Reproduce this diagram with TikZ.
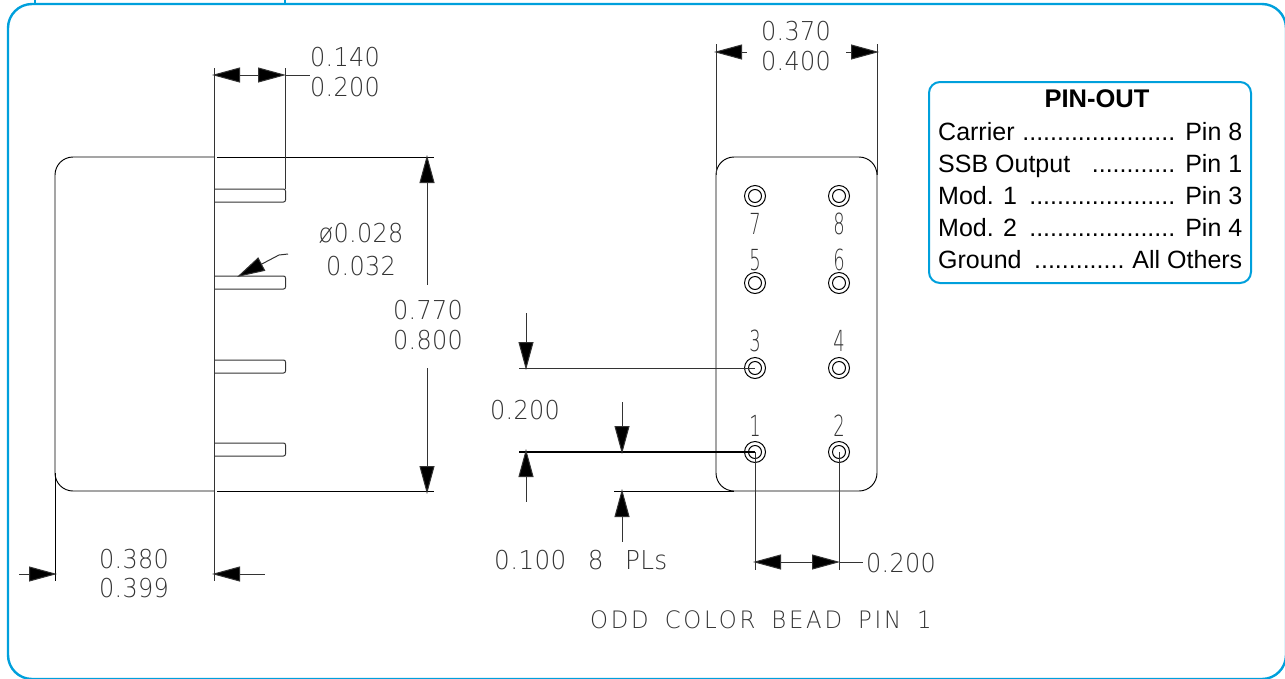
\documentclass[tikz,border=0pt]{standalone}
\usepackage{fontspec}
\usetikzlibrary{arrows.meta}
\setmainfont{Liberation Sans}
\newfontfamily\cad[FakeStretch=0.92,LetterSpace=1.2]{DejaVu Sans ExtraLight}
\newfontfamily\cadwide[FakeStretch=0.95,LetterSpace=11.5,WordSpace=1.6]{DejaVu Sans ExtraLight}
\newfontfamily\cadmid[FakeStretch=0.95,LetterSpace=1.5,WordSpace=2.6]{DejaVu Sans ExtraLight}
\newfontfamily\cadsm[FakeStretch=0.62]{DejaVu Sans ExtraLight}
\definecolor{frameblue}{HTML}{00A0DC}
\definecolor{inkgray}{HTML}{333333}
\tikzset{
  frame/.style={draw=frameblue,line width=2.4pt},
  part/.style={draw=black,line width=0.95pt},
  dimline/.style={draw=inkgray,line width=1pt},
  darrow/.style={dimline,{Triangle[length=28pt,width=15pt,fill=black]}-},
  twoarrow/.style={dimline,{Triangle[length=28pt,width=15pt,fill=black]}-{Triangle[length=28pt,width=15pt,fill=black]}},
  cadtext/.style={inner sep=0pt,text=inkgray,font=\cad\fontsize{26}{26}\selectfont},
  pinnum/.style={inner sep=0pt,text=inkgray,font=\cadsm\fontsize{29}{29}\selectfont},
  pinpad/.style={draw=black,line width=1pt,circle,minimum size=21pt,inner sep=0pt,
    path picture={\draw[line width=1pt] (path picture bounding box.center) circle (6.5pt);}},
  pinrow/.style={inner sep=0pt,anchor=base west,font=\fontsize{25}{25}\selectfont},
}
\newcommand{\pinline}[3]{\hbox to 304pt{#1\hfill #2\kern10pt #3}}
\begin{document}
\begin{tikzpicture}[x=1pt,y=-1pt]
\useasboundingbox (0,0) rectangle (1285,678);
% outer frame
\draw[frame,rounded corners=24pt] (8,4) rectangle (1286,679);
\draw[frame,line width=2pt] (35,0) -- (35,4) (285,0) -- (285,4);
% left body
\draw[part,rounded corners=18pt] (214,157) -- (55,157) -- (55,491) -- (214,491);
\draw[part] (217,157) -- (434,157) (217,491) -- (434,491);
\draw[dimline] (214,68) -- (214,581);
\draw[dimline] (285,68) -- (285,189);
\draw[part] (55,473) -- (55,581);
% pins
\foreach \n/\y in {a/189,b/276,c/360,d/443}{
  \draw[dimline,rounded corners=2pt] (214,\y) -- (285.5,\y) -- (285.5,\y+13) -- (214,\y+13);
}
% dimension 0.140/0.200
\draw[twoarrow] (212,75) -- (286,75);
\draw[dimline] (286,75) -- (310,75);
\node[cadtext] (d140) at (345,57) {0.140};
\node[cadtext] (d200a) at (345,87) {0.200};
% diameter
\draw[darrow] (237,277) -- (279,255) -- (288,254);
\node[cadtext] (d028) at (361,233) {ø0.028};
\node[cadtext] (d032) at (361,266) {0.032};
% height
\draw[darrow] (427,155) -- (427,285);
\draw[darrow] (427,494) -- (427,368);
\node[cadtext] (d770) at (428,310) {0.770};
\node[cadtext] (d800) at (428,340) {0.800};
% width
\draw[darrow] (57,574) -- (19,574);
\draw[darrow] (212,574) -- (265,574);
\node[cadtext] (d380) at (134,559) {0.380};
\node[cadtext] (d399) at (134,588) {0.399};
% right body
\draw[part,rounded corners=18pt] (796,157) -- (877,157) -- (877,491) -- (716,491) -- (716,157) -- (796,157);
\draw[dimline] (716,175) -- (716,44) (877,175) -- (877,44);
\draw[part] (734,491) -- (614,491);
\draw[darrow] (714,52) -- (747,52);
\draw[darrow] (879,52) -- (846,52);
\node[cadtext] (d370) at (796,31) {0.370};
\node[cadtext] (d400) at (796,61) {0.400};
% pads
\foreach \n/\x/\y in {7/755/196,8/839/196,5/755/283,6/839/283,3/755/368,4/839/368,1/755/452,2/839/452}{
  \node[pinpad] (p\n) at (\x,\y) {};
}
\node[pinnum] (n7) at (755,224) {7};
\node[pinnum] (n8) at (839,224) {8};
\node[pinnum] (n5) at (755,260) {5};
\node[pinnum] (n6) at (839,260) {6};
\node[pinnum] (n3) at (755,341) {3};
\node[pinnum] (n4) at (839,341) {4};
\node[pinnum] (n1) at (755,426) {1};
\node[pinnum] (n2) at (839,426) {2};
% vertical pitch dims
\draw[dimline] (519,368) -- (p3.center);
\draw[draw=black,line width=2pt] (519,452) -- (p1.center);
\draw[darrow] (526,370) -- (526,313);
\draw[darrow] (526,449) -- (526,502);
\draw[darrow] (622,454) -- (622,402);
\draw[darrow] (622,489) -- (622,542);
\node[cadtext] (d200b) at (525,410) {0.200};
\node[inner sep=0pt,text=inkgray,font=\cadmid\fontsize{26}{26}\selectfont,anchor=west] (d100) at (494,560) {0.100 8 PLs};
% horizontal pitch
\draw[dimline] (p1.center) -- (755,570);
\draw[dimline] (p2.center) -- (839,570);
\draw[twoarrow] (753,562) -- (840,562);
\draw[dimline] (840,562) -- (863,562);
\node[cadtext,anchor=west] (d200c) at (866,563) {0.200};
\node[inner sep=0pt,text=inkgray,font=\cadwide\fontsize{24}{24}\selectfont,anchor=west] (note) at (590,620) {ODD COLOR BEAD PIN 1};
% pin-out box
\draw[frame,rounded corners=11pt,line width=2pt] (929,82) rectangle (1251,283);
\node[inner sep=0pt,font=\bfseries\fontsize{25.5}{25.5}\selectfont] (title) at (1097,99) {PIN-OUT};
\node[pinrow] (r1) at (938,140) {\pinline{Carrier}{......................}{Pin~8}};
\node[pinrow] (r2) at (938,172) {\pinline{SSB Output}{............}{Pin~1}};
\node[pinrow] (r3) at (938,204) {\pinline{Mod. 1}{.....................}{Pin~3}};
\node[pinrow] (r4) at (938,236) {\pinline{Mod. 2}{.....................}{Pin~4}};
\node[pinrow] (r5) at (938,268) {\hbox to 304pt{Ground\hfill .............\kern8pt All Others}};
\end{tikzpicture}
\end{document}
